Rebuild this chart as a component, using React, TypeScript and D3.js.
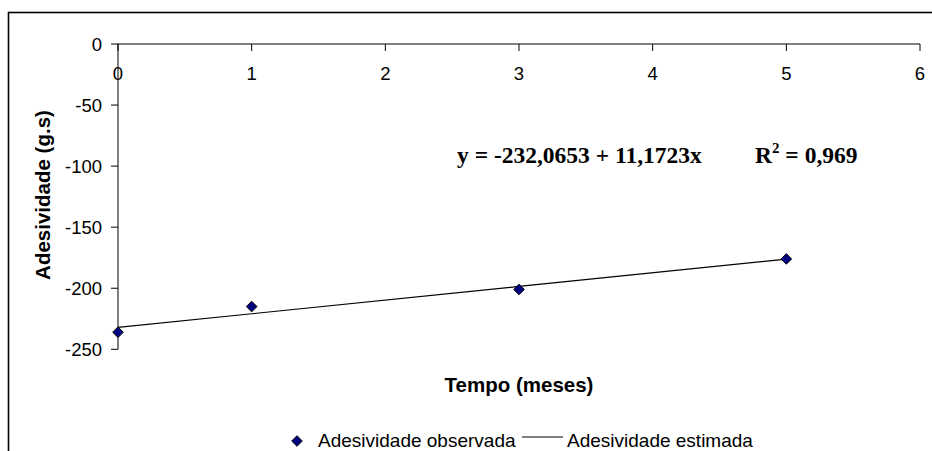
import React from "react";
import * as d3 from "d3";

// Storage time (months) and measured adhesiveness (g.s)
const months = [0, 1, 3, 5];
const observed = [-236, -215, -201, -176];
// Fitted values from y = -232,0653 + 11,1723x
const estimated = [-232.07, -220.89, -198.55, -176.2];

const xTicks = [0, 1, 2, 3, 4, 5, 6];
const yTicks = [0, -50, -100, -150, -200, -250];

const equationText = "y = -232,0653 + 11,1723x";
const r2Value = "0,969";

const W = 932;
const H = 451;

export default function App() {
  const x = d3.scaleLinear().domain([0, 6]).range([118, 920]);
  const y = d3.scaleLinear().domain([-250, 0]).range([349.3, 44]);

  const line = d3
    .line<number>()
    .x((_, i) => x(months[i]))
    .y((d) => y(d));

  const diamond = d3.symbol().type(d3.symbolDiamond2).size(72)();

  const sans = "'Liberation Sans', Arial, sans-serif";
  const serif = "'Liberation Serif', 'Times New Roman', serif";

  return (
    <svg
      width={W}
      height={H}
      style={{ position: "absolute", left: 0, top: 0, background: "#fff" }}
      fontFamily={sans}
    >
      {/* chart frame */}
      <rect x={8.5} y={12.5} width={W + 20} height={H + 20} fill="none" stroke="#000" strokeWidth={1.6} />

      {/* x axis along y = 0 */}
      <line x1={x(0)} x2={x(6)} y1={y(0)} y2={y(0)} stroke="#000" strokeWidth={1} />
      {xTicks.map((t) => (
        <g key={"xt" + t}>
          <line x1={x(t)} x2={x(t)} y1={y(0)} y2={y(0) + 7} stroke="#000" />
          <text x={x(t)} y={80} textAnchor="middle" fontSize={18.5} fill="#000">
            {t}
          </text>
        </g>
      ))}

      {/* y axis */}
      <line x1={x(0)} x2={x(0)} y1={y(0)} y2={y(-250)} stroke="#000" strokeWidth={1} />
      {yTicks.map((t) => (
        <g key={"yt" + t}>
          <line x1={x(0) - 7} x2={x(0)} y1={y(t)} y2={y(t)} stroke="#000" />
          <text x={102} y={y(t)} dy="0.36em" textAnchor="end" fontSize={18.5} fill="#000">
            {t}
          </text>
        </g>
      ))}

      {/* axis titles */}
      <text
        transform={`translate(50,195) rotate(-90)`}
        textAnchor="middle"
        fontSize={20.5}
        fontWeight="bold"
        fill="#000"
      >
        Adesividade (g.s)
      </text>
      <text x={519} y={392} textAnchor="middle" fontSize={20.5} fontWeight="bold" fill="#000">
        Tempo (meses)
      </text>

      {/* fitted line */}
      <path d={line(estimated) ?? ""} fill="none" stroke="#000" strokeWidth={1.2} />

      {/* observed points */}
      {observed.map((v, i) => (
        <path
          key={"p" + i}
          d={diamond ?? ""}
          transform={`translate(${x(months[i])},${y(v)})`}
          fill="#000080"
          stroke="#000"
          strokeWidth={1}
        />
      ))}

      {/* regression equation */}
      <text x={457} y={163} fontFamily={serif} fontWeight="bold" fontSize={23.5} fill="#000">
        {equationText}
      </text>
      <text x={755} y={163} fontFamily={serif} fontWeight="bold" fontSize={23.5} fill="#000">
        R
        <tspan fontSize={15} dy={-10}>2</tspan>
        <tspan dy={10}>{" = " + r2Value}</tspan>
      </text>

      {/* legend */}
      <path d={diamond ?? ""} transform="translate(297,441)" fill="#000080" stroke="#000" strokeWidth={1} />
      <text x={318} y={447} fontSize={19} fill="#000">
        Adesividade observada
      </text>
      <line x1={522} x2={563} y1={437} y2={437} stroke="#000" strokeWidth={1.2} />
      <text x={567} y={447} fontSize={19} fill="#000">
        Adesividade estimada
      </text>
    </svg>
  );
}
